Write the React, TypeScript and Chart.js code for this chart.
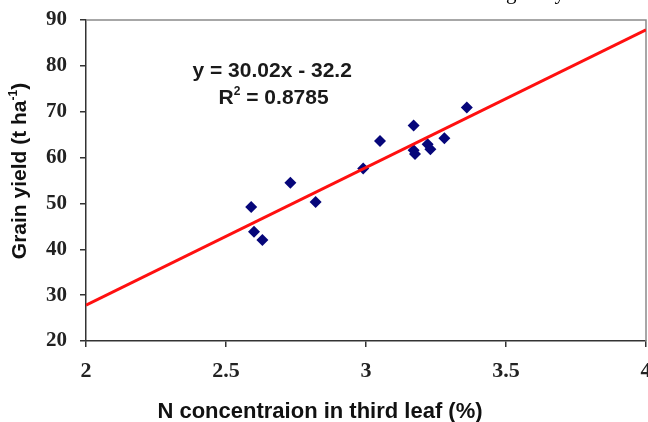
import React, { useEffect, useRef } from "react";
import { Chart, registerables } from "chart.js";

Chart.register(...registerables);

// ---- data ----
const xTickValues = [2, 2.5, 3, 3.5, 4];
const yTickValues = [20, 30, 40, 50, 60, 70, 80, 90];
const nConcentration = [2.59, 2.6, 2.63, 2.73, 2.82, 2.99, 3.05, 3.17, 3.17, 3.175, 3.22, 3.23, 3.28, 3.36];
const grainYield = [49.2, 43.8, 42.0, 54.5, 50.3, 57.6, 63.6, 67.0, 61.6, 60.8, 62.9, 61.8, 64.2, 70.9];
const fitSlope = 30.02;
const fitIntercept = -32.2;
const equationText = ["y = 30.02x - 32.2", "R", "2", " = 0.8785"];
const xTitle = "N concentraion in third leaf (%)";
const yTitleParts = ["Grain yield (t ha", "-1", ")"];
const clippedCaption = "grain yield";

const fitX = [xTickValues[0], xTickValues[xTickValues.length - 1]];

const SANS = "'Liberation Sans', Arial, sans-serif";
const SERIF = "'Liberation Serif', 'Times New Roman', serif";

export default function App() {
  const ref = useRef<HTMLCanvasElement | null>(null);

  useEffect(() => {
    const canvas = ref.current;
    if (!canvas) return;

    const decor = {
      id: "decor",
      beforeDatasetsDraw(chart: any) {
        const { ctx, chartArea } = chart;
        ctx.save();
        ctx.strokeStyle = "#8a8a8a";
        ctx.lineWidth = 1.5;
        ctx.beginPath();
        ctx.moveTo(chartArea.left, chartArea.top);
        ctx.lineTo(chartArea.right, chartArea.top);
        ctx.lineTo(chartArea.right, chartArea.bottom);
        ctx.stroke();
        ctx.restore();
      },
      afterDatasetsDraw(chart: any) {
        const { ctx } = chart;
        const xs = chart.scales.x;
        const ys = chart.scales.y;
        ctx.save();
        ctx.fillStyle = "#1a1a1a";
        ctx.textBaseline = "alphabetic";

        // equation
        ctx.font = `bold 21px ${SANS}`;
        ctx.textAlign = "center";
        ctx.fillText(equationText[0], xs.getPixelForValue(2.665), ys.getPixelForValue(77.5));
        // R² line with a real superscript
        const bigFont = `bold 21px ${SANS}`;
        const smallFont = `bold 12px ${SANS}`;
        ctx.font = bigFont;
        const wR = ctx.measureText(equationText[1]).width;
        const wRest = ctx.measureText(equationText[3]).width;
        ctx.font = smallFont;
        const wSup = ctx.measureText(equationText[2]).width;
        const total = wR + wSup + wRest;
        const x0 = xs.getPixelForValue(2.67) - total / 2;
        const base2 = ys.getPixelForValue(71.6);
        ctx.textAlign = "left";
        ctx.font = bigFont;
        ctx.fillText(equationText[1], x0, base2);
        ctx.font = smallFont;
        ctx.fillText(equationText[2], x0 + wR, base2 - 9);
        ctx.font = bigFont;
        ctx.fillText(equationText[3], x0 + wR + wSup, base2);

        // x title
        ctx.fillStyle = "#111";
        ctx.font = `bold 22px ${SANS}`;
        ctx.textAlign = "center";
        ctx.fillText(xTitle, 320, 418);

        // y title, rotated
        ctx.save();
        ctx.translate(26, 171);
        ctx.rotate(-Math.PI / 2);
        const tFont = `bold 21px ${SANS}`;
        const sFont = `bold 12px ${SANS}`;
        ctx.font = tFont;
        const w1 = ctx.measureText(yTitleParts[0]).width;
        const w3 = ctx.measureText(yTitleParts[2]).width;
        ctx.font = sFont;
        const w2 = ctx.measureText(yTitleParts[1]).width;
        const tw = w1 + w2 + w3;
        const tx = -tw / 2;
        ctx.textAlign = "left";
        ctx.font = tFont;
        ctx.fillText(yTitleParts[0], tx, 0);
        ctx.font = sFont;
        ctx.fillText(yTitleParts[1], tx + w1, -9);
        ctx.font = tFont;
        ctx.fillText(yTitleParts[2], tx + w1 + w2, 0);
        ctx.restore();

        // clipped caption text from the page above
        ctx.font = `21px ${SERIF}`;
        ctx.textAlign = "left";
        ctx.fillStyle = "#000";
        ctx.fillText(clippedCaption, 506, -1);
        ctx.restore();
      },
    };

    const chart = new Chart(canvas, {
      type: "scatter",
      data: {
        datasets: [
          {
            type: "line",
            label: "fit",
            data: fitX.map((x) => ({ x, y: fitSlope * x + fitIntercept })),
            borderColor: "#ff1010",
            borderWidth: 3,
            pointRadius: 0,
            fill: false,
            order: 0,
          } as any,
          {
            type: "scatter",
            label: "obs",
            data: nConcentration.map((x, i) => ({ x, y: grainYield[i] })),
            pointStyle: "rectRot",
            pointRadius: 6,
            backgroundColor: "#06067a",
            borderColor: "#06067a",
            borderWidth: 0,
            order: 1,
          },
        ],
      },
      options: {
        responsive: false,
        animation: false,
        events: [],
        layout: { autoPadding: false, padding: { top: 20, right: 2, left: 0, bottom: 0 } },
        plugins: { legend: { display: false }, tooltip: { enabled: false } },
        scales: {
          x: {
            type: "linear",
            min: xTickValues[0],
            max: xTickValues[xTickValues.length - 1],
            afterBuildTicks: (s: any) => {
              s.ticks = xTickValues.map((v) => ({ value: v }));
            },
            afterFit: (s: any) => {
              s.height = 81;
              s.paddingLeft = 0;
              s.paddingRight = 0;
            },
            ticks: {
              callback: (v: any) => String(v),
              font: { family: SERIF, size: 22, weight: "bold" },
              color: "#222",
              padding: 11,
              maxRotation: 0,
            },
            grid: { drawOnChartArea: false, drawTicks: true, tickLength: 6, color: "#333", lineWidth: 1.5 },
            border: { color: "#333", width: 1.5 },
            title: { display: false },
          },
          y: {
            type: "linear",
            min: yTickValues[0],
            max: yTickValues[yTickValues.length - 1],
            afterBuildTicks: (s: any) => {
              s.ticks = yTickValues.map((v) => ({ value: v }));
            },
            afterFit: (s: any) => {
              s.width = 86;
              s.paddingTop = 0;
              s.paddingBottom = 0;
            },
            ticks: {
              callback: (v: any) => String(v),
              font: { family: SERIF, size: 21, weight: "bold" },
              color: "#222",
              padding: 13,
            },
            grid: { drawOnChartArea: false, drawTicks: true, tickLength: 6, color: "#333", lineWidth: 1.5 },
            border: { color: "#333", width: 1.5 },
            title: { display: false },
          },
        },
      },
      plugins: [decor],
    });

    return () => chart.destroy();
  }, []);

  return (
    <div style={{ position: "absolute", left: 0, top: 0, width: 648, height: 422, background: "#fff" }}>
      <canvas ref={ref} width={648} height={422} style={{ display: "block" }} />
    </div>
  );
}
